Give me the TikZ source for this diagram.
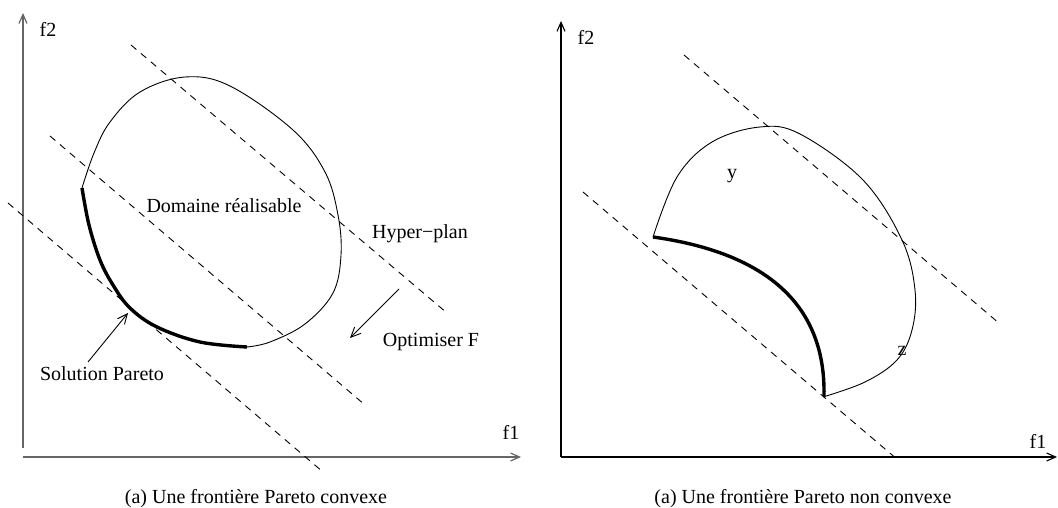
\documentclass[tikz,border=0pt]{standalone}
\usepackage{fontspec}
\setmainfont{Liberation Serif}
\usetikzlibrary{arrows.meta}
\begin{document}
\begin{tikzpicture}[x=1bp,y=-1bp,
  axisL/.style={line width=1.2bp,draw=black!60,-{Straight Barb[length=9bp,width=8bp]}},
  axisR/.style={line width=1.1bp,draw=black,-{Straight Barb[length=9bp,width=8bp]}},
  hyper/.style={line width=0.9bp,dash pattern=on 7bp off 6bp},
  thin/.style={line width=0.9bp},
  thick/.style={line width=3.4bp},
  ptr/.style={line width=0.9bp,-{Straight Barb[length=10bp,width=9bp]}},
  lab/.style={anchor=base,inner sep=0pt,font=\fontsize{20bp}{24bp}\selectfont}]
\useasboundingbox (0,0) rectangle (1058,508);
% ---------- left panel ----------
\coordinate (ly0) at (23,448); \coordinate (ly1) at (23,13);
\coordinate (lx0) at (23,457); \coordinate (lx1) at (521,457);
\draw[axisL] (ly0) -- (ly1);
\draw[axisL] (lx0) -- (lx1);
\node[lab] (lf2) at (48,37) {f2};
\node[lab] (lf1) at (511,439) {f1};
\coordinate (a1) at (131,45); \coordinate (b1) at (447,313);
\coordinate (a2) at (50,136); \coordinate (b2) at (365,405);
\coordinate (a3) at (8,203); \coordinate (b3) at (323,472);
\draw[hyper] (a1) -- (b1);
\draw[hyper] (a2) -- (b2);
\draw[hyper] (a3) -- (b3);
\draw[thin] plot[smooth,tension=0.6] coordinates {(82,188) (94,153) (110,122) (140,92) (185,77) (230,86) (293,130) (325,172) (338,215) (341,255) (333,293) (305,324) (270,342) (247,347)};
\draw[thick] plot[smooth,tension=0.6] coordinates {(82,188) (89,225) (100,260) (113,285) (130,308) (157,327) (200,342) (247,347)};
\node[lab] (dom) at (224,213) {Domaine réalisable};
\node[lab] (hyp) at (420,239) {Hyper−plan};
\node[lab] (opt) at (431,347) {Optimiser F};
\node[lab] (sol) at (102,381) {Solution Pareto};
\coordinate (sp0) at (88,362); \coordinate (sp1) at (128,313);
\draw[ptr] (sp0) -- (sp1);
\coordinate (op0) at (399,289); \coordinate (op1) at (350,338);
\draw[ptr] (op0) -- (op1);
\node[lab] (capL) at (256,503) {(a) Une frontière Pareto convexe};
% ---------- right panel ----------
\coordinate (ry0) at (561,457); \coordinate (ry1) at (561,21);
\coordinate (rx1) at (1057,457);
\draw[axisR] (ry0) -- (ry1);
\draw[axisR] (ry0) -- (rx1);
\node[lab] (rf2) at (586,45) {f2};
\node[lab] (rf1) at (1038,448) {f1};
\coordinate (c1) at (684,55); \coordinate (d1) at (1000,324);
\coordinate (c2) at (583,192); \coordinate (d2) at (898,460);
\draw[hyper] (c1) -- (d1);
\draw[hyper] (c2) -- (d2);
\draw[thin] plot[smooth,tension=0.6] coordinates {(653,237) (677,177) (712,142) (760,127) (800,134) (863,180) (902,240) (915,290) (912,330) (897,360) (865,382) (823,397)};
\coordinate (pr0) at (653,237); \coordinate (pr1) at (824,396);
\draw[thick] (pr0) .. controls (760,252) and (826,300) .. (pr1);
\node[lab] (ly) at (732,179) {y};
\node[lab] (lz) at (902,356) {z};
\node[lab] (capR) at (803,503) {(a) Une frontière Pareto non convexe};
\end{tikzpicture}
\end{document}
